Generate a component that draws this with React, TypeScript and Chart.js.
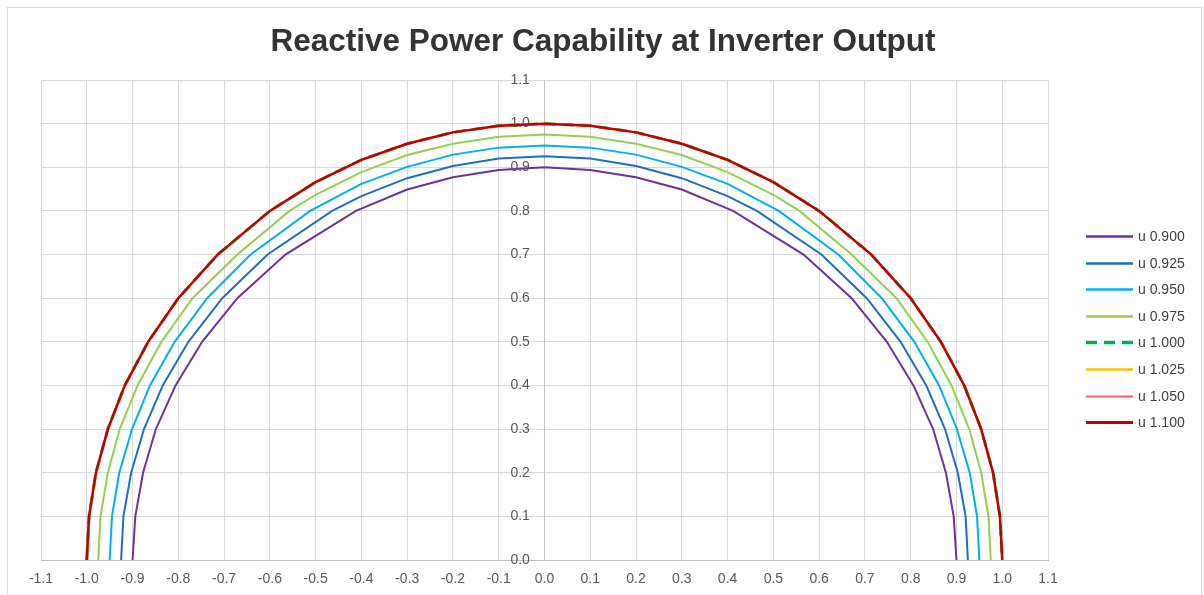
import React, { useEffect, useRef } from "react";
import { Chart, registerables } from "chart.js";

Chart.register(...registerables);

const TITLE = "Reactive Power Capability at Inverter Output";

const SERIES_LABELS = ["u 0.900", "u 0.925", "u 0.950", "u 0.975", "u 1.000", "u 1.025", "u 1.050", "u 1.100"];
const SERIES_COLORS = ["#7030A0", "#1F6FBF", "#00B0F0", "#92D050", "#00B050", "#FFC000", "#FF5B5B", "#C00000"];
const SERIES_WIDTHS = [2, 2, 2, 2, 3, 2, 1.3, 2.5];

// Active power P (x) and reactive power Q (y) for each voltage level
const P_0900 = [-0.9, -0.894, -0.877, -0.849, -0.806, -0.748, -0.671, -0.566, -0.412, -0.3, -0.2, -0.1, 0, 0.1, 0.2, 0.3, 0.412, 0.566, 0.671, 0.748, 0.806, 0.849, 0.877, 0.894, 0.9];
const Q_0900 = [0, 0.1, 0.2, 0.3, 0.4, 0.5, 0.6, 0.7, 0.8, 0.849, 0.877, 0.894, 0.9, 0.894, 0.877, 0.849, 0.8, 0.7, 0.6, 0.5, 0.4, 0.3, 0.2, 0.1, 0];

const P_0925 = [-0.925, -0.92, -0.903, -0.875, -0.834, -0.778, -0.704, -0.605, -0.464, -0.4, -0.3, -0.2, -0.1, 0, 0.1, 0.2, 0.3, 0.4, 0.464, 0.605, 0.704, 0.778, 0.834, 0.875, 0.903, 0.92, 0.925];
const Q_0925 = [0, 0.1, 0.2, 0.3, 0.4, 0.5, 0.6, 0.7, 0.8, 0.834, 0.875, 0.903, 0.92, 0.925, 0.92, 0.903, 0.875, 0.834, 0.8, 0.7, 0.6, 0.5, 0.4, 0.3, 0.2, 0.1, 0];

const P_0950 = [-0.95, -0.945, -0.929, -0.901, -0.862, -0.808, -0.737, -0.642, -0.512, -0.4, -0.3, -0.2, -0.1, 0, 0.1, 0.2, 0.3, 0.4, 0.512, 0.642, 0.737, 0.808, 0.862, 0.901, 0.929, 0.945, 0.95];
const Q_0950 = [0, 0.1, 0.2, 0.3, 0.4, 0.5, 0.6, 0.7, 0.8, 0.862, 0.901, 0.929, 0.945, 0.95, 0.945, 0.929, 0.901, 0.862, 0.8, 0.7, 0.6, 0.5, 0.4, 0.3, 0.2, 0.1, 0];

const P_0975 = [-0.975, -0.97, -0.954, -0.928, -0.889, -0.837, -0.769, -0.671, -0.557, -0.5, -0.4, -0.3, -0.2, -0.1, 0, 0.1, 0.2, 0.3, 0.4, 0.5, 0.557, 0.671, 0.769, 0.837, 0.889, 0.928, 0.954, 0.97, 0.975];
const Q_0975 = [0, 0.1, 0.2, 0.3, 0.4, 0.5, 0.6, 0.7, 0.8, 0.837, 0.889, 0.928, 0.954, 0.97, 0.975, 0.97, 0.954, 0.928, 0.889, 0.837, 0.8, 0.7, 0.6, 0.5, 0.4, 0.3, 0.2, 0.1, 0];

// u >= 1.000 is limited to the rated apparent power of 1.0
const P_1000 = [-1, -0.995, -0.98, -0.954, -0.917, -0.866, -0.8, -0.714, -0.6, -0.5, -0.4, -0.3, -0.2, -0.1, 0, 0.1, 0.2, 0.3, 0.4, 0.5, 0.6, 0.714, 0.8, 0.866, 0.917, 0.954, 0.98, 0.995, 1];
const Q_1000 = [0, 0.1, 0.2, 0.3, 0.4, 0.5, 0.6, 0.7, 0.8, 0.866, 0.917, 0.954, 0.98, 0.995, 1, 0.995, 0.98, 0.954, 0.917, 0.866, 0.8, 0.7, 0.6, 0.5, 0.4, 0.3, 0.2, 0.1, 0];

const SERIES_P = [P_0900, P_0925, P_0950, P_0975, P_1000, P_1000, P_1000, P_1000];
const SERIES_Q = [Q_0900, Q_0925, Q_0950, Q_0975, Q_1000, Q_1000, Q_1000, Q_1000];

const X_MIN = -1.1;
const X_MAX = 1.1;
const Y_MIN = 0;
const Y_MAX = 1.1;
const TICK_STEP = 0.1;

const FONT = '"Liberation Sans", Arial, sans-serif';

const fmt = (v: any) => {
  const n = Number(v);
  return (Math.abs(n) < 1e-9 ? 0 : n).toFixed(1);
};

const overlayPlugin = {
  id: "overlay",
  beforeDraw(chart: any) {
    const ctx = chart.ctx;
    ctx.save();
    ctx.fillStyle = "#ffffff";
    ctx.fillRect(0, 0, chart.width, chart.height);
    ctx.strokeStyle = "#d9d9d9";
    ctx.lineWidth = 1;
    ctx.strokeRect(7.5, 7.5, 1194, 620);
    ctx.restore();
  },
  afterDraw(chart: any) {
    const ctx = chart.ctx;
    ctx.save();
    ctx.font = `bold 31.5px ${FONT}`;
    ctx.fillStyle = "#333333";
    ctx.textAlign = "center";
    ctx.textBaseline = "alphabetic";
    ctx.fillText(TITLE, 603, 51);

    ctx.font = `14px ${FONT}`;
    ctx.textAlign = "left";
    ctx.textBaseline = "middle";
    const ds = chart.data.datasets;
    for (let i = 0; i < ds.length; i++) {
      const y = Math.round(236 + i * 26.6) + 0.5;
      ctx.beginPath();
      ctx.strokeStyle = ds[i].borderColor;
      ctx.lineWidth = ds[i].borderDash && ds[i].borderDash.length ? 3.5 : ds[i].borderWidth + 0.5;
      ctx.setLineDash(ds[i].borderDash || []);
      ctx.moveTo(1086, y);
      ctx.lineTo(1133, y);
      ctx.stroke();
      ctx.setLineDash([]);
      ctx.fillStyle = "#404040";
      ctx.fillText(ds[i].label, 1138, y + 1);
    }
    ctx.restore();
  },
};

export default function App() {
  const canvasRef = useRef<HTMLCanvasElement | null>(null);

  useEffect(() => {
    if (!canvasRef.current) return;
    const datasets = SERIES_LABELS.map((label, i) => ({
      label,
      data: SERIES_P[i].map((p, k) => ({ x: p, y: SERIES_Q[i][k] })),
      borderColor: SERIES_COLORS[i],
      backgroundColor: SERIES_COLORS[i],
      borderWidth: SERIES_WIDTHS[i],
      borderDash: i === 4 ? [11, 7] : [],
      showLine: true,
      pointRadius: 0,
      pointHoverRadius: 0,
      tension: 0,
      fill: false,
      order: SERIES_LABELS.length - i,
    }));

    const tickFont = { family: FONT, size: 14 };

    const chart = new Chart(canvasRef.current, {
      type: "scatter",
      data: { datasets },
      options: {
        animation: false,
        responsive: false,
        maintainAspectRatio: false,
        layout: { padding: { top: 80, left: 41, right: 156, bottom: 7 } },
        plugins: {
          legend: { display: false },
          title: { display: false },
          tooltip: { enabled: false },
        },
        scales: {
          x: {
            type: "linear",
            min: X_MIN,
            max: X_MAX,
            grid: { color: "#d9d9d9", lineWidth: 1, drawTicks: false },
            border: { display: true, color: "#bfbfbf" },
            ticks: {
              stepSize: TICK_STEP,
              autoSkip: false,
              maxRotation: 0,
              padding: 11,
              color: "#595959",
              font: tickFont,
              callback: (v: any) => fmt(v),
            },
            afterFit: (s: any) => {
              s.height = 28;
            },
          },
          y: {
            type: "linear",
            position: { x: 0 } as any,
            min: Y_MIN,
            max: Y_MAX,
            grid: { color: "#d9d9d9", lineWidth: 1, drawTicks: false },
            border: { display: true, color: "#bfbfbf" },
            ticks: { stepSize: TICK_STEP, display: false },
          },
          yLabels: {
            type: "linear",
            position: { x: -0.032 } as any,
            min: Y_MIN,
            max: Y_MAX,
            grid: { display: false, drawTicks: false },
            border: { display: false },
            ticks: {
              stepSize: TICK_STEP,
              autoSkip: false,
              color: "#595959",
              font: tickFont,
              callback: (v: any) => fmt(v),
            },
          },
        },
      },
      plugins: [overlayPlugin],
    });
    return () => chart.destroy();
  }, []);

  return (
    <div style={{ position: "fixed", left: 0, top: 0, width: 1204, height: 595, background: "#fff" }}>
      <canvas ref={canvasRef} width={1204} height={595} style={{ display: "block" }} />
    </div>
  );
}
